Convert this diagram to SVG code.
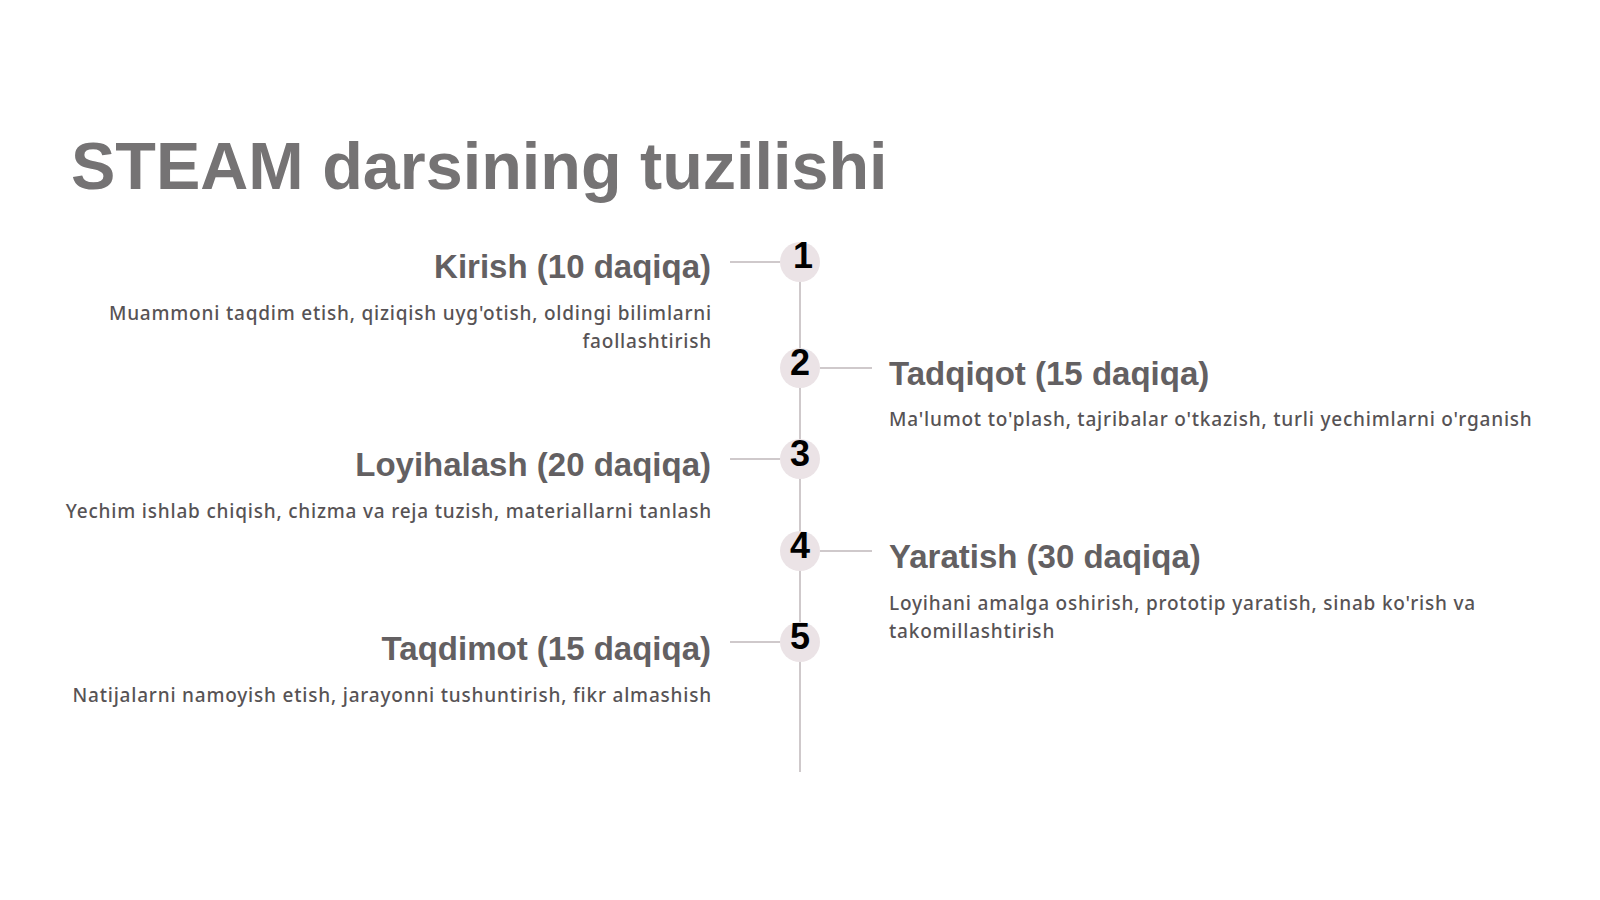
<svg xmlns="http://www.w3.org/2000/svg" width="1600" height="900" viewBox="0 0 1600 900">
<style>
.title{font-family:"Liberation Sans",Arial,sans-serif;font-weight:700;font-size:66.5px;fill:#757374}
.head{font-family:"Liberation Sans",Arial,sans-serif;font-weight:700;font-size:33px;fill:#636062}
.desc{font-family:"Noto Sans","Open Sans",sans-serif;font-weight:500;font-size:19px;letter-spacing:0.8px;fill:#575355}
.num{font-family:"Liberation Sans",Arial,sans-serif;font-weight:700;font-size:36px;fill:#000;text-anchor:middle}
.dot{fill:#ebe3e6}
.ln{stroke:#cfc9cb;stroke-width:2;fill:none}
.l{text-anchor:end}
</style>
<rect width="1600" height="900" fill="#fff"/>
<text class="title" x="71" y="189">STEAM darsining tuzilishi</text>
<g id="connectors">
<line class="ln" x1="800" y1="262" x2="800" y2="772"/>
<line class="ln" x1="730" y1="262" x2="780" y2="262"/>
<line class="ln" x1="820" y1="368" x2="872" y2="368"/>
<line class="ln" x1="730" y1="459" x2="780" y2="459"/>
<line class="ln" x1="820" y1="551" x2="872" y2="551"/>
<line class="ln" x1="730" y1="642" x2="780" y2="642"/>
</g>
<g id="step1">
<circle class="dot" cx="800" cy="262" r="20"/>
<text class="num" x="803" y="268">1</text>
<text class="head l" x="711" y="278">Kirish (10 daqiqa)</text>
<text class="desc l" x="712" y="320">Muammoni taqdim etish, qiziqish uyg'otish, oldingi bilimlarni</text>
<text class="desc l" x="712" y="348">faollashtirish</text>
</g>
<g id="step2">
<circle class="dot" cx="800" cy="368" r="20"/>
<text class="num" x="800" y="375">2</text>
<text class="head" x="889" y="385">Tadqiqot (15 daqiqa)</text>
<text class="desc" x="889" y="426">Ma'lumot to'plash, tajribalar o'tkazish, turli yechimlarni o'rganish</text>
</g>
<g id="step3">
<circle class="dot" cx="800" cy="459" r="20"/>
<text class="num" x="800" y="466">3</text>
<text class="head l" x="711" y="476">Loyihalash (20 daqiqa)</text>
<text class="desc l" x="712" y="518">Yechim ishlab chiqish, chizma va reja tuzish, materiallarni tanlash</text>
</g>
<g id="step4">
<circle class="dot" cx="800" cy="551" r="20"/>
<text class="num" x="800" y="558">4</text>
<text class="head" x="889" y="568">Yaratish (30 daqiqa)</text>
<text class="desc" x="889" y="610">Loyihani amalga oshirish, prototip yaratish, sinab ko'rish va</text>
<text class="desc" x="889" y="638">takomillashtirish</text>
</g>
<g id="step5">
<circle class="dot" cx="800" cy="642" r="20"/>
<text class="num" x="800" y="649">5</text>
<text class="head l" x="711" y="660">Taqdimot (15 daqiqa)</text>
<text class="desc l" x="712" y="702">Natijalarni namoyish etish, jarayonni tushuntirish, fikr almashish</text>
</g>
</svg>
